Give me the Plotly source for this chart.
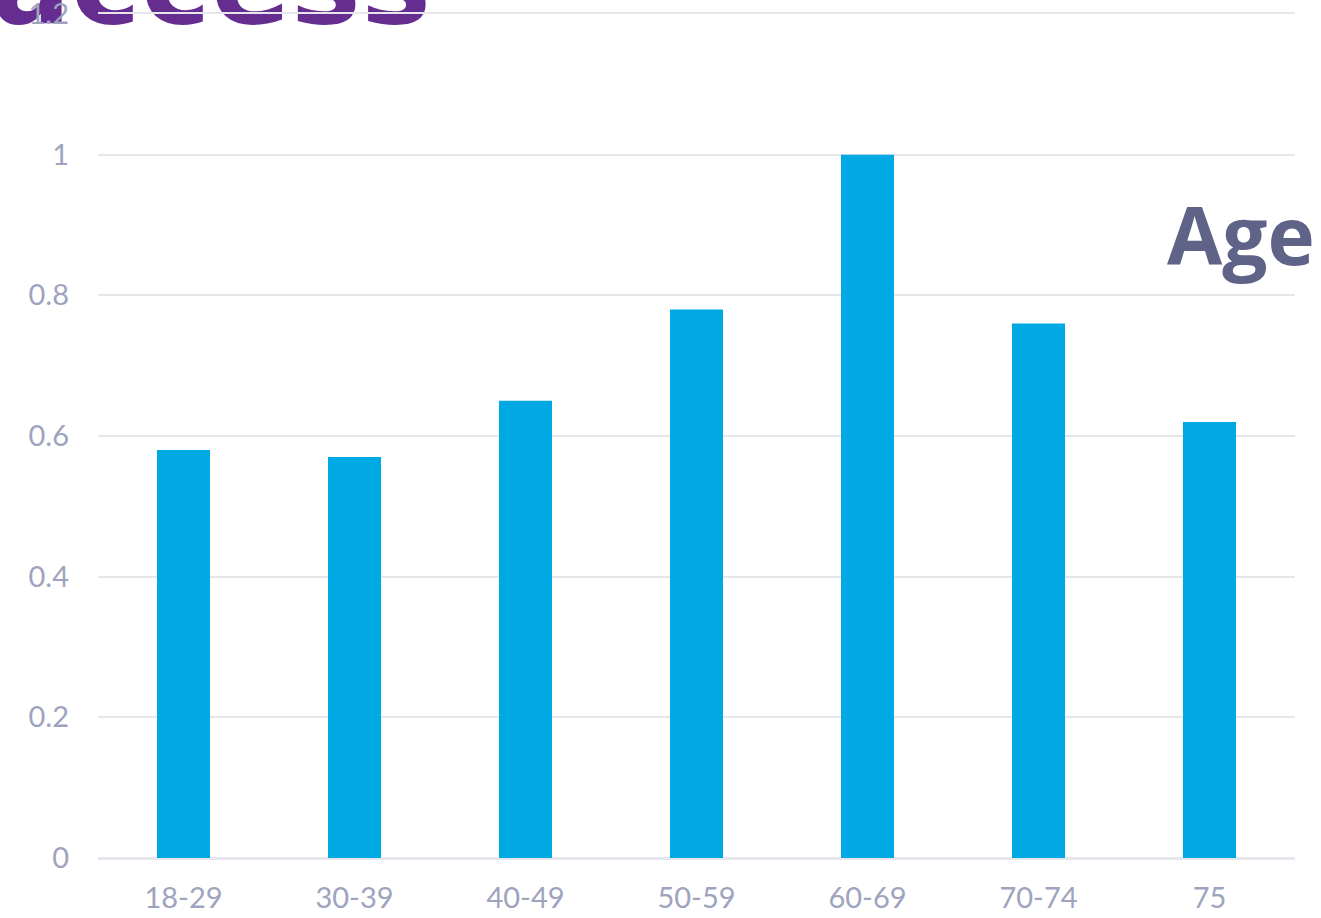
import plotly.graph_objects as go

categories = ["18-29", "30-39", "40-49", "50-59", "60-69", "70-74", "75"]
values = [0.58, 0.57, 0.65, 0.78, 1.0, 0.76, 0.62]
tick_vals = [0, 0.2, 0.4, 0.6, 0.8, 1, 1.2]
tick_text = ["0", "0.2", "0.4", "0.6", "0.8", "1", "1.2"]
title_text = "access"

positions = list(range(len(categories)))

fig = go.Figure()
fig.add_trace(go.Bar(x=positions, y=values, marker=dict(color="#00A9E3", line=dict(width=0)),
                     hoverinfo="skip"))
# logo-like title drawn underneath the axis labels (as in the reference)
fig.add_trace(go.Scatter(x=[0.162], y=[1.145],
                         mode="text", text=[title_text], textposition="top center",
                         textfont=dict(family="DejaVu Sans", size=118, color="#662D91", weight="bold"),
                         cliponaxis=False, hoverinfo="skip"))

fig.update_layout(
    width=1321, height=918,
    margin=dict(l=98, r=26, t=14, b=60),
    paper_bgcolor="white", plot_bgcolor="white",
    bargap=0.69,
    showlegend=False,
    font=dict(family="Lato", color="#9EA3BE", size=29),
    xaxis=dict(range=[-0.5, len(categories) - 0.5], tickvals=positions, ticktext=categories,
               showgrid=False, zeroline=False, showline=True, linecolor="#E6E6EC", linewidth=2, mirror=True,
               ticks="", ticklabelstandoff=13, automargin=False,
               tickfont=dict(size=29, color="#9EA3BE")),
    yaxis=dict(range=[0, 1.2], tickvals=tick_vals, ticktext=tick_text, showgrid=True, automargin=False,
               gridcolor="#E6E6EC", gridwidth=2, zeroline=True, zerolinecolor="#E6E6EC", zerolinewidth=2,
               showline=False, ticks="", ticklabelstandoff=28, ticklabeloverflow="allow",
               tickfont=dict(size=29, color="#9EA3BE")),
    annotations=[
        dict(text="<b>Age</b>", xref="paper", yref="paper", x=1.018, y=0.673,
             xanchor="right", yanchor="bottom", showarrow=False,
             font=dict(family="Open Sans", size=80, color="#5F6388")),
    ],
)

fig.write_html("out.html", config={"displayModeBar": False},
               post_script="document.body.style.margin='0';")
